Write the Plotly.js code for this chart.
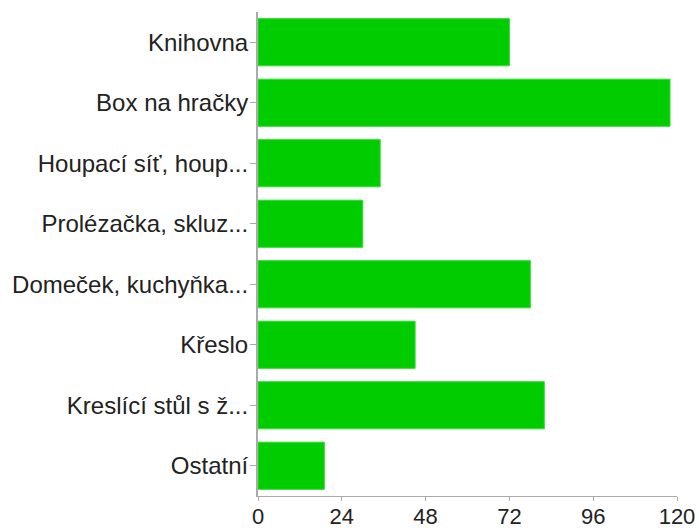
<!DOCTYPE html>
<html>
<head>
<meta charset="utf-8">
<script src="https://cdn.plot.ly/plotly-3.0.1.min.js"></script>
<style>html,body{margin:0;padding:0;background:#fff}#chart{width:699px;height:528px}</style>
</head>
<body>
<div id="chart"></div>
<script>
var categories = ["Knihovna","Box na hračky","Houpací síť, houp...","Prolézačka, skluz...","Domeček, kuchyňka...","Křeslo","Kreslící stůl s ž...","Ostatní"];
var values = [72, 118, 35, 30, 78, 45, 82, 19];
var xTicks = [0, 24, 48, 72, 96, 120];

Plotly.newPlot('chart', [{
  type: 'bar',
  orientation: 'h',
  y: categories,
  x: values,
  marker: {color: '#00cc00', line: {color: '#33dd33', width: 1}},
  hoverinfo: 'none'
}], {
  width: 699, height: 528,
  margin: {l: 258, r: 22, t: 12, b: 32, pad: 0},
  paper_bgcolor: '#fff', plot_bgcolor: '#fff',
  font: {family: 'Liberation Sans, Arial, sans-serif', size: 22, color: '#222'},
  bargap: 0.22,
  showlegend: false,
  xaxis: {
    range: [0, 120], tickvals: xTicks, ticktext: xTicks.map(String),
    showgrid: false, zeroline: false, showline: true, linecolor: '#aaaaaa', linewidth: 1,
    ticks: 'outside', ticklen: 4, tickcolor: '#aaaaaa', tickfont: {size: 22, color: '#222'},
    ticklabelstandoff: -3
  },
  yaxis: {
    autorange: 'reversed', showgrid: false, zeroline: false,
    showline: true, linecolor: '#aaaaaa', linewidth: 2,
    ticks: 'outside', ticklen: 6, tickcolor: '#aaaaaa', tickfont: {size: 24, color: '#222'},
    ticklabelstandoff: -3
  }
}, {displayModeBar: false, staticPlot: true});
</script>
</body>
</html>
